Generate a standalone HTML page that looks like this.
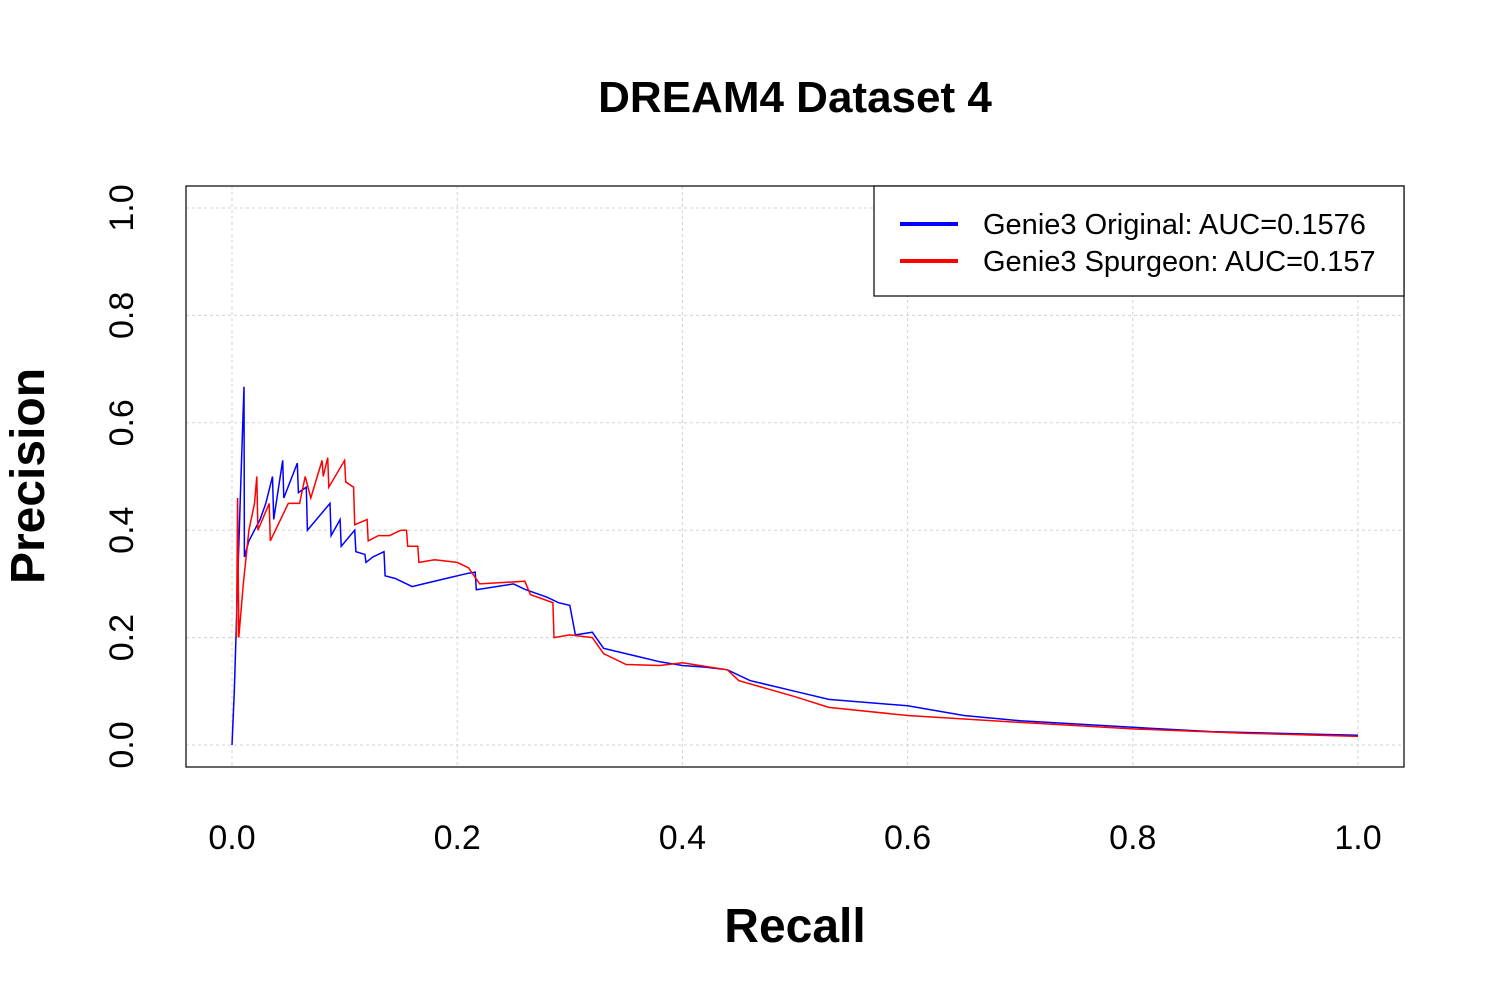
<!DOCTYPE html>
<html><head><meta charset="utf-8"><style>
body{margin:0;background:#fff;}
svg text{font-family:"Liberation Sans",Arial,sans-serif;}
</style></head><body>
<svg id="chart" width="1500" height="1000" xmlns="http://www.w3.org/2000/svg">
<rect width="1500" height="1000" fill="#fff"/>
<text x="795" y="112" font-size="44" font-weight="bold" text-anchor="middle">DREAM4 Dataset 4</text>
<g id="grid"></g>
<g id="curves"></g>
<rect x="186" y="186" width="1218" height="581" fill="none" stroke="#000" stroke-width="1.2"/>
<g id="axes"></g>
<text x="795" y="942" font-size="48" font-weight="bold" text-anchor="middle">Recall</text>
<text transform="translate(44,476) rotate(-90)" font-size="48" font-weight="bold" text-anchor="middle">Precision</text>
<g>
<rect x="874" y="186" width="530" height="110" fill="#fff" stroke="#000" stroke-width="1.2"/>
<line x1="900" y1="224" x2="958" y2="224" stroke="#0000ff" stroke-width="4"/>
<text x="983" y="234" font-size="29">Genie3 Original: AUC=0.1576</text>
<line x1="900" y1="261" x2="958" y2="261" stroke="#ff0000" stroke-width="4"/>
<text x="983" y="271" font-size="29">Genie3 Spurgeon: AUC=0.157</text>
</g>
</svg>
<script>
const xTicks=[0,0.2,0.4,0.6,0.8,1.0];
const yTicks=[0,0.2,0.4,0.6,0.8,1.0];
const xTickLabels=["0.0","0.2","0.4","0.6","0.8","1.0"];
const yTickLabels=["0.0","0.2","0.4","0.6","0.8","1.0"];
const blueRecall=[0,0.002,0.005,0.008,0.0107,0.011,0.015,0.02,0.025,0.03,0.036,0.037,0.045,0.046,0.058,0.059,0.066,0.067,0.087,0.088,0.096,0.097,0.109,0.11,0.118,0.119,0.125,0.135,0.136,0.145,0.15,0.16,0.17,0.19,0.21,0.216,0.217,0.25,0.26,0.28,0.29,0.30,0.305,0.32,0.33,0.36,0.38,0.40,0.42,0.44,0.46,0.50,0.53,0.6,0.65,0.7,0.8,0.87,1.0];
const bluePrecision=[0,0.1,0.3,0.5,0.667,0.35,0.38,0.4,0.42,0.45,0.5,0.42,0.53,0.46,0.525,0.47,0.48,0.4,0.45,0.39,0.42,0.37,0.4,0.36,0.355,0.34,0.35,0.36,0.315,0.31,0.305,0.295,0.3,0.31,0.32,0.322,0.289,0.3,0.29,0.275,0.265,0.26,0.205,0.21,0.18,0.165,0.155,0.148,0.145,0.14,0.12,0.1,0.085,0.073,0.055,0.045,0.033,0.025,0.018];
const redRecall=[0.004,0.005,0.006,0.01,0.015,0.02,0.022,0.023,0.033,0.034,0.05,0.06,0.065,0.07,0.08,0.081,0.085,0.086,0.1,0.101,0.108,0.109,0.12,0.121,0.13,0.14,0.15,0.155,0.156,0.165,0.166,0.18,0.2,0.21,0.22,0.26,0.265,0.285,0.286,0.3,0.32,0.33,0.35,0.38,0.40,0.44,0.45,0.5,0.53,0.6,0.7,0.8,0.9,1.0];
const redPrecision=[0.2,0.46,0.2,0.3,0.4,0.45,0.5,0.4,0.45,0.38,0.45,0.45,0.5,0.46,0.53,0.5,0.535,0.48,0.53,0.49,0.48,0.41,0.42,0.38,0.39,0.39,0.4,0.4,0.37,0.37,0.34,0.345,0.34,0.33,0.3,0.305,0.28,0.265,0.2,0.205,0.2,0.17,0.15,0.148,0.153,0.14,0.12,0.09,0.07,0.055,0.042,0.03,0.022,0.016];
const NS='http://www.w3.org/2000/svg';
const sx=v=>232+v*1126, sy=v=>745-v*537;
function mk(t,a,p){const e=document.createElementNS(NS,t);for(const k in a)e.setAttribute(k,a[k]);p.appendChild(e);return e;}
const grid=document.getElementById('grid'),axes=document.getElementById('axes'),curves=document.getElementById('curves');
xTicks.forEach((v,i)=>{
 const g=mk('line',{x1:sx(v),x2:sx(v),y1:186,y2:767,stroke:'#d3d3d3','stroke-dasharray':'3,3'},grid);
 
 
 const t=mk('text',{x:sx(v),y:849,'font-size':34,'text-anchor':'middle'},axes);t.textContent=xTickLabels[i];
 
 
});
yTicks.forEach((v,i)=>{
 const g=mk('line',{x1:186,x2:1404,y1:sy(v),y2:sy(v),stroke:'#d3d3d3','stroke-dasharray':'3,3'},grid);
 
 
 const t=mk('text',{transform:`translate(133,${sy(v)}) rotate(-90)`,'font-size':34,'text-anchor':'middle'},axes);t.textContent=yTickLabels[i];
 
 
});
function line(rx,py,col,name){
 const pts=rx.map((r,i)=>sx(r).toFixed(1)+','+sy(py[i]).toFixed(1)).join(' ');
 const p=mk('polyline',{points:pts,fill:'none',stroke:col,'stroke-width':1.5},curves);
 
 
}
line(blueRecall,bluePrecision,'#0000ff','series-original');
line(redRecall,redPrecision,'#ff0000','series-spurgeon');
</script>
</body></html>
